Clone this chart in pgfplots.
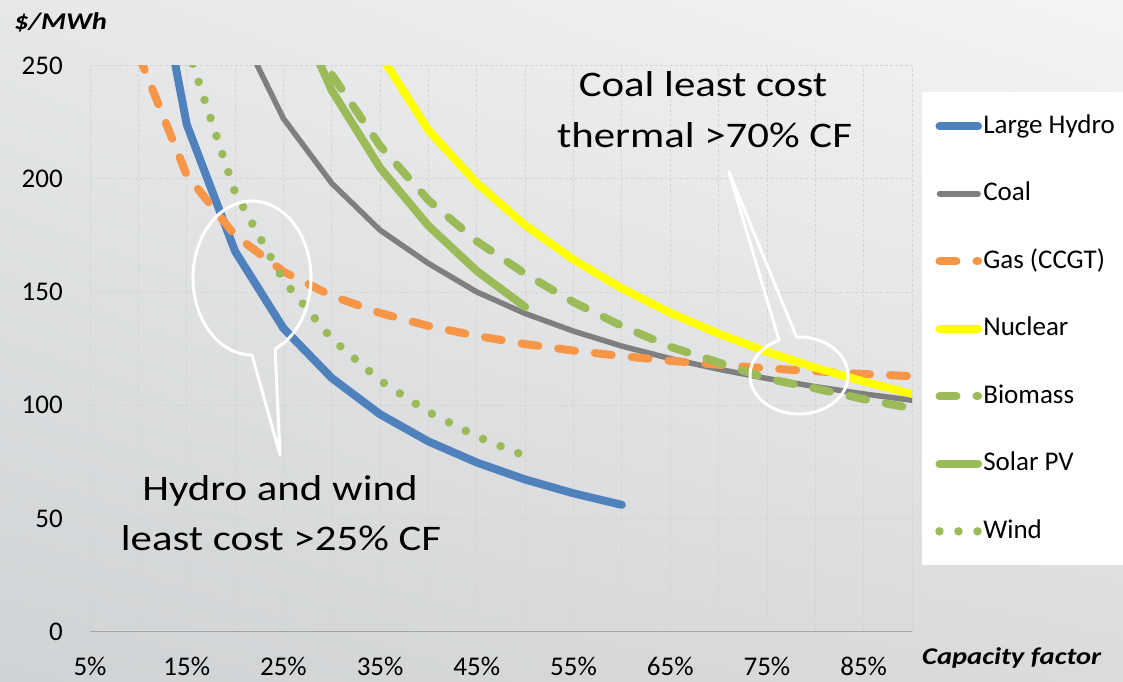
\documentclass[border=0pt]{standalone}
\usepackage{pgfplots}
\pgfplotsset{compat=1.18}
\usetikzlibrary{shadings}
\usepackage{fontspec}
\setmainfont{Carlito}
\newfontfamily\annotfont[FakeStretch=1.19]{Carlito}
\newfontfamily\labfont[FakeStretch=1.19]{Carlito}

\definecolor{hydro}{HTML}{4F81BD}
\definecolor{coal}{HTML}{7F7F7F}
\definecolor{gas}{HTML}{F79646}
\definecolor{nuclear}{HTML}{FFFF00}
\definecolor{biogreen}{HTML}{9BBB59}
\definecolor{gridgray}{HTML}{D4D4D4}
\definecolor{axisgray}{HTML}{A6A6A6}
\definecolor{bgUL}{HTML}{E5E7E8}
\definecolor{bgUR}{HTML}{F4F4F4}
\definecolor{bgLL}{HTML}{D0D3D5}
\definecolor{bgLR}{HTML}{DADBDC}

\begin{document}
\begin{tikzpicture}
\shade[upper left=bgUL, upper right=bgUR, lower left=bgLL, lower right=bgLR]
  (0pt,0pt) rectangle (1123pt,681pt);

\begin{axis}[
  at={(90pt,49.3pt)}, anchor=south west,
  scale only axis, width=822pt, height=566.2pt,
  xmin=5, xmax=90, ymin=0, ymax=250,
  axis x line*=bottom, axis y line*=left,
  x axis line style={draw=axisgray, line width=1.5pt, -},
  y axis line style={draw=none},
  xtick={5,15,25,35,45,55,65,75,85},
  xticklabels={5\%,15\%,25\%,35\%,45\%,55\%,65\%,75\%,85\%},
  minor xtick={10,20,30,40,50,60,70,80,90},
  ytick={0,50,100,150,200,250},
  major tick length=0pt, minor tick length=0pt,
  xmajorgrids, xminorgrids, ymajorgrids,
  major grid style={draw=gridgray, dash pattern=on 3pt off 2pt, line width=0.8pt},
  minor grid style={draw=gridgray, dash pattern=on 3pt off 2pt, line width=0.8pt},
  tick label style={font=\fontsize{27}{30}\selectfont, /pgf/number format/assume math mode=true},
  xticklabel style={anchor=base, inner sep=0pt, yshift=-44pt},
  yticklabel style={anchor=east, inner sep=0pt, xshift=-27pt},
  legend style={at={(1.0122,0.953)}, anchor=north west, draw=none, fill=white,
    font=\fontsize{27}{30}\selectfont, inner xsep=13pt, inner ysep=21pt, row sep=41.5pt,
    nodes={inner sep=0pt, text height=20pt, text depth=6pt},
    /tikz/every odd column/.append style={column sep=1pt}},
  legend cell align=left,
  legend image code/.code={\draw[#1] (0pt,0pt) -- (38.6pt,0pt);},
  every axis plot/.append style={line cap=round, line join=round, no markers},
]
% Large Hydro
\addplot[hydro, line width=8pt] coordinates {
  (10,336) (15,224) (20,168) (25,134) (30,112) (35,96) (40,84)
  (45,74.7) (50,67.2) (55,61.1) (60,56)};
\addlegendentry{Large Hydro}
% Coal
\addplot[coal, line width=5.5pt] coordinates {
  (20,270) (25,226.6) (30,198) (35,177.3) (40,162.6) (45,150) (50,140.5)
  (55,132.7) (60,126.1) (65,120.6) (70,115.9) (75,111.8) (80,108.2) (85,105) (90,102.2)};
\addlegendentry{Coal}
% Gas (CCGT)
\addplot[gas, line width=8pt, dash pattern=on 17pt off 20pt] coordinates {
  (10,255) (15,201.7) (20,175) (25,159) (30,148.3) (35,140.7) (40,135) (45,130.6)
  (50,127) (55,124.1) (60,121.7) (65,119.6) (70,117.9) (75,116.3) (80,115) (85,113.8) (90,112.8)};
\addlegendentry{Gas (CCGT)}
% Nuclear
\addplot[nuclear, line width=8pt] coordinates {
  (30,293) (35,255) (40,221.4) (45,198.1) (50,179.5) (55,164.3) (60,151.6)
  (65,140.8) (70,131.6) (75,123.6) (80,116.6) (85,110.5) (90,105)};
\addlegendentry{Nuclear}
% Biomass
\addplot[biogreen, line width=8pt, dash pattern=on 17pt off 20pt] coordinates {
  (25,290) (30,246) (35,214.5) (40,190.5) (45,172.4) (50,158) (55,145.5) (60,135)
  (65,125.8) (70,118.9) (75,111.8) (80,107.4) (85,102.7) (90,98.6)};
\addlegendentry{Biomass}
% Solar PV
\addplot[biogreen, line width=8pt] coordinates {
  (25,286.8) (30,239) (35,204.8) (40,179.2) (45,159.3) (50,143.4)};
\addlegendentry{Solar PV}
% Wind
\addplot[biogreen, line width=8.5pt, dash pattern=on 0pt off 19pt] coordinates {
  (15,258.7) (20,194) (25,155.2) (30,129.3) (35,110.9) (40,97) (45,86.2) (50,77.6)};
\addlegendentry{Wind}
\end{axis}

% axis titles
\node[anchor=base west, inner sep=0pt, font=\labfont\bfseries\itshape\fontsize{24}{28}\selectfont]
  at (14pt,651pt) {\$/MWh};
\node[anchor=base west, inner sep=0pt, font=\labfont\bfseries\itshape\fontsize{24}{28}\selectfont]
  at (922pt,17pt) {Capacity factor};

% annotations
\node[anchor=base, inner sep=0pt, font=\annotfont\fontsize{36}{40}\selectfont]
  at (703pt,584.3pt) {Coal least cost};
\node[anchor=base, inner sep=0pt, font=\annotfont\fontsize{36}{40}\selectfont]
  at (704.5pt,533pt) {thermal >70\% CF};
\node[anchor=base, inner sep=0pt, font=\annotfont\fontsize{36}{40}\selectfont]
  at (280pt,181pt) {Hydro and wind};
\node[anchor=base, inner sep=0pt, font=\annotfont\fontsize{36}{40}\selectfont]
  at (281pt,131pt) {least cost >25\% CF};

% callouts
\draw[white, line width=3pt, line join=round, shift={(252pt,403pt)}]
  (293:59pt and 77pt) arc[start angle=293, end angle=630, x radius=59pt, y radius=77pt]
  -- (28pt,-177pt) -- cycle;
\draw[white, line width=3pt, line join=round, shift={(799pt,305.5pt)}]
  (114:49pt and 38.5pt) arc[start angle=114, end angle=453, x radius=49pt, y radius=38.5pt]
  -- (-70pt,203.5pt) -- cycle;

\pgfresetboundingbox
\useasboundingbox (0pt,0pt) rectangle (1123pt,681pt);
\end{tikzpicture}
\end{document}
